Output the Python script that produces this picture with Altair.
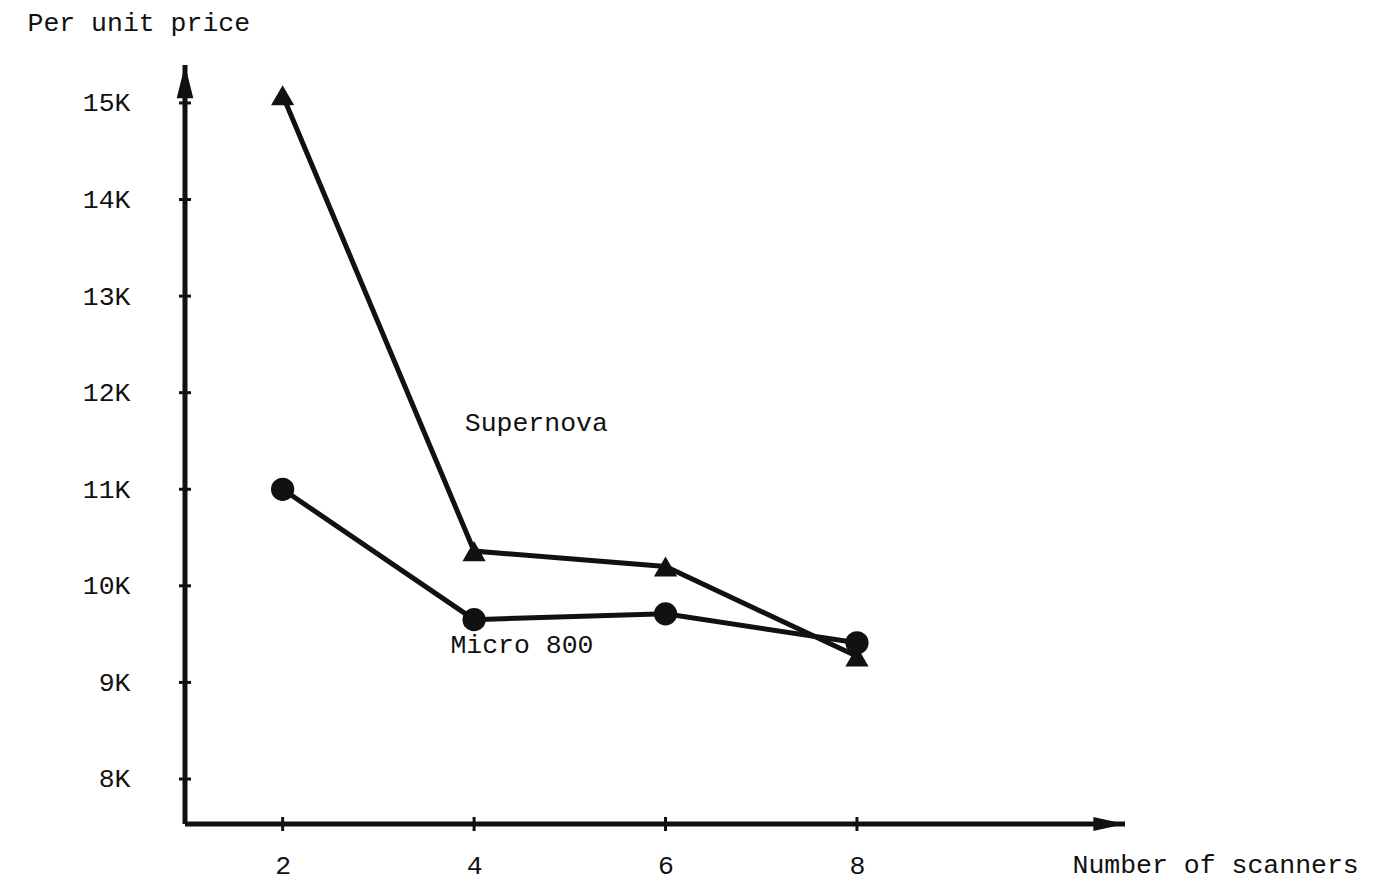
import altair as alt
import pandas as pd

# Number of scanners in the system
scanners = [2, 4, 6, 8]
# Per-unit price (dollars) for each vendor
supernova = [15080, 10360, 10200, 9270]
micro800 = [11000, 9650, 9710, 9410]

series_names = ["Supernova", "Micro 800"]
series_shapes = ["triangle-up", "circle"]

# Inline series labels (data coordinates)
label_text = ["Supernova", "Micro 800"]
label_n = [4.65, 4.5]
label_price = [11690, 9390]

x_ticks = [2, 4, 6, 8]
y_ticks = [8000, 9000, 10000, 11000, 12000, 13000, 14000, 15000]

X_DOMAIN = [0.98, 10.8]
Y_DOMAIN = [7534, 15393]

FONT = "Liberation Mono"
FONT_SIZE = 26.5
INK = "#111111"

rows = []
for name, values in zip(series_names, [supernova, micro800]):
    for n, p in zip(scanners, values):
        rows.append({"series": name, "n": n, "price": p})
series_df = pd.DataFrame(rows)

labels_df = pd.DataFrame({"text": label_text, "n": label_n, "price": label_price})

x_axis = alt.Axis(
    values=x_ticks, domain=False, ticks=False, grid=False,
    labelFont=FONT, labelFontSize=FONT_SIZE, labelColor=INK, labelPadding=28,
    title="Number of scanners", titleFont=FONT, titleFontSize=FONT_SIZE,
    titleFontWeight="normal", titleColor=INK, titleAlign="left",
    titleBaseline="middle", titleX=887, titleY=40,
)
y_axis = alt.Axis(
    values=y_ticks, labelExpr="datum.value / 1000 + 'K'",
    domain=False, ticks=False, grid=False,
    labelFont=FONT, labelFontSize=FONT_SIZE, labelColor=INK, labelPadding=55,
    title="Per unit price", titleFont=FONT, titleFontSize=FONT_SIZE,
    titleFontWeight="normal", titleColor=INK, titleAngle=0,
    titleAlign="left", titleBaseline="middle", titleX=-158, titleY=-43,
)

X = alt.X("n:Q", scale=alt.Scale(domain=X_DOMAIN, nice=False, zero=False), axis=x_axis)
Y = alt.Y("price:Q", scale=alt.Scale(domain=Y_DOMAIN, nice=False, zero=False), axis=y_axis)

# Hand-drawn style axes: heavy lines with arrowheads and crossing ticks
y_line_df = pd.DataFrame({"n": [X_DOMAIN[0]], "price": [Y_DOMAIN[0]], "price2": [Y_DOMAIN[1]]})
x_line_df = pd.DataFrame({"n": [X_DOMAIN[0]], "n2": [X_DOMAIN[1]], "price": [Y_DOMAIN[0]]})

y_axis_line = alt.Chart(y_line_df).mark_rule(strokeWidth=5, color=INK).encode(
    x=X, y=Y, y2="price2:Q"
)
x_axis_line = alt.Chart(x_line_df).mark_rule(strokeWidth=5, color=INK).encode(
    x=X, x2="n2:Q", y=Y
)

up_arrow_df = pd.DataFrame({"n": [X_DOMAIN[0]], "price": [Y_DOMAIN[1]]})
right_arrow_df = pd.DataFrame({"n": [X_DOMAIN[1]], "price": [Y_DOMAIN[0]]})

up_arrow = alt.Chart(up_arrow_df).mark_point(
    shape="M0,0L0.5,2L-0.5,2Z", size=1100, filled=True, opacity=1, color=INK
).encode(x=X, y=Y)
right_arrow = alt.Chart(right_arrow_df).mark_point(
    shape="M0,0L-2,-0.45L-2,0.45Z", size=1000, filled=True, opacity=1, color=INK
).encode(x=X, y=Y)

y_tick_df = pd.DataFrame({"n": [X_DOMAIN[0]] * len(y_ticks), "price": y_ticks})
x_tick_df = pd.DataFrame({"n": x_ticks, "price": [Y_DOMAIN[0]] * len(x_ticks)})

y_tick_marks = alt.Chart(y_tick_df).mark_tick(
    orient="horizontal", size=12, thickness=3, color=INK, opacity=1
).encode(x=X, y=Y)
x_tick_marks = alt.Chart(x_tick_df).mark_tick(
    orient="vertical", size=14, thickness=3, color=INK, opacity=1
).encode(x=X, y=Y)

lines = alt.Chart(series_df).mark_line(strokeWidth=5, color=INK).encode(
    x=X, y=Y, detail="series:N"
)
points = alt.Chart(series_df).mark_point(
    filled=True, opacity=1, size=540, color=INK
).encode(
    x=X, y=Y,
    shape=alt.Shape("series:N", scale=alt.Scale(domain=series_names, range=series_shapes), legend=None),
)

labels = alt.Chart(labels_df).mark_text(
    font=FONT, fontSize=FONT_SIZE, color=INK, align="center", baseline="middle"
).encode(x=X, y=Y, text="text:N")

chart = alt.layer(
    y_axis_line, x_axis_line, up_arrow, right_arrow,
    y_tick_marks, x_tick_marks, lines, points, labels,
).properties(
    width=940,
    height=759,
    autosize=alt.AutoSizeParams(type="none"),
    padding={"left": 185, "top": 65, "right": 272, "bottom": 62},
    background="white",
).configure_view(stroke=None)

chart.save("out.html", embed_options={"renderer": "svg", "actions": False})
